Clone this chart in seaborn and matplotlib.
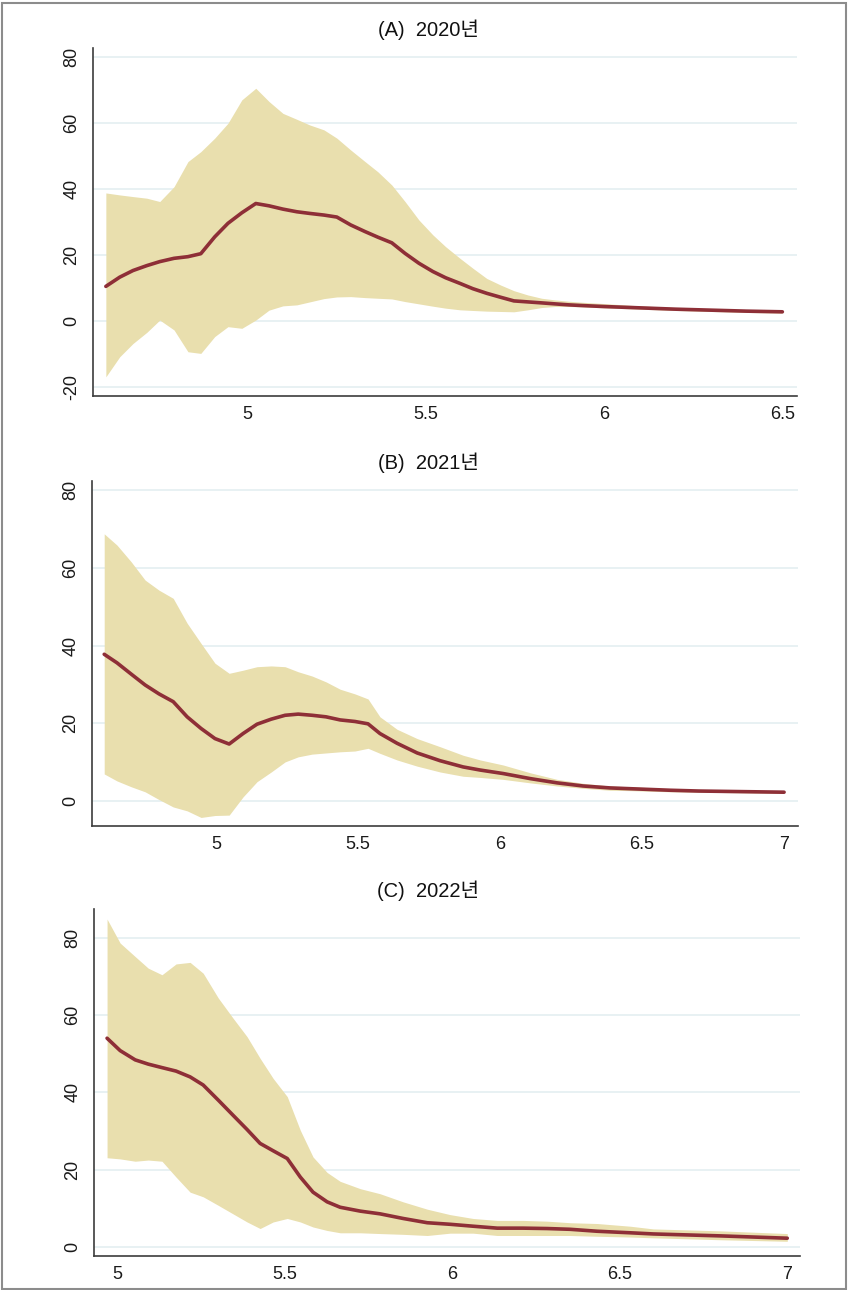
import matplotlib
matplotlib.use("Agg")
import matplotlib.pyplot as plt
import numpy as np
import pandas as pd
import seaborn as sns
from matplotlib.patches import Rectangle

# ---- (A) 2020 ----
x_2020 = [4.605, 4.644, 4.681, 4.720, 4.756, 4.796, 4.835, 4.871, 4.910, 4.947,
          4.986, 5.025, 5.062, 5.101, 5.140, 5.176, 5.216, 5.252, 5.291, 5.331,
          5.367, 5.406, 5.443, 5.482, 5.521, 5.557, 5.597, 5.633, 5.672, 5.711,
          5.748, 5.787, 5.826, 5.863, 5.902, 5.938, 6.0, 6.1, 6.2, 6.3, 6.4, 6.5]
mean_2020 = [10.5, 13.3, 15.3, 16.8, 18.0, 19.0, 19.5, 20.4, 25.5, 29.6,
             32.8, 35.6, 34.9, 33.9, 33.1, 32.6, 32.1, 31.5, 29.1, 27.1,
             25.4, 23.7, 20.5, 17.5, 15.0, 13.1, 11.4, 9.8, 8.4, 7.2,
             6.1, 5.8, 5.5, 5.2, 4.9, 4.7, 4.4, 4.0, 3.6, 3.3, 3.0, 2.8]
upper_2020 = [38.8, 38.2, 37.7, 37.2, 36.2, 40.7, 48.3, 51.3, 55.4, 59.9,
              67.0, 70.5, 66.5, 62.9, 61.1, 59.4, 57.9, 55.4, 51.8, 48.3,
              45.2, 41.2, 36.2, 30.6, 26.1, 22.5, 19.0, 16.0, 12.9, 10.9,
              9.2, 7.9, 6.9, 6.4, 6.0, 5.7, 5.3, 4.6, 4.1, 3.7, 3.4, 3.1]
lower_2020 = [-16.9, -10.8, -6.8, -3.4, 0.3, -2.7, -9.3, -9.8, -4.7, -1.7,
              -2.2, 0.3, 3.3, 4.6, 4.9, 5.8, 6.8, 7.3, 7.4, 7.1,
              6.9, 6.7, 5.9, 5.2, 4.5, 3.9, 3.4, 3.2, 3.0, 2.9,
              2.8, 3.4, 4.1, 4.4, 4.4, 4.3, 4.0, 3.6, 3.2, 2.9, 2.6, 2.4]

# ---- (B) 2021 ----
x_2021 = [4.606, 4.651, 4.701, 4.750, 4.799, 4.849, 4.898, 4.947, 4.996, 5.046,
          5.095, 5.144, 5.194, 5.243, 5.289, 5.338, 5.387, 5.437, 5.489, 5.535,
          5.577, 5.637, 5.708, 5.789, 5.870, 5.930, 6.011, 6.106, 6.201, 6.292,
          6.387, 6.458, 6.6, 6.7, 6.8, 6.9, 7.0]
mean_2021 = [37.8, 35.6, 32.7, 29.9, 27.6, 25.6, 21.7, 18.7, 16.1, 14.7,
             17.4, 19.8, 21.1, 22.1, 22.4, 22.1, 21.7, 20.9, 20.5, 19.9,
             17.4, 14.9, 12.4, 10.4, 8.8, 8.0, 7.1, 5.8, 4.7, 3.9,
             3.4, 3.2, 2.8, 2.6, 2.5, 2.4, 2.3]
upper_2021 = [68.8, 65.9, 61.6, 56.9, 54.3, 52.2, 45.8, 40.6, 35.5, 32.9,
              33.7, 34.6, 34.8, 34.6, 33.3, 32.2, 30.7, 28.8, 27.6, 26.3,
              21.7, 18.5, 16.1, 14.0, 11.8, 10.6, 9.3, 7.3, 5.6, 4.6,
              3.9, 3.7, 3.2, 2.9, 2.8, 2.7, 2.6]
lower_2021 = [7.0, 5.2, 3.7, 2.4, 0.4, -1.5, -2.5, -4.2, -3.7, -3.6,
              1.1, 5.0, 7.5, 10.1, 11.4, 12.1, 12.4, 12.7, 12.9, 13.6,
              12.3, 10.6, 9.0, 7.5, 6.4, 6.1, 5.6, 4.7, 3.9, 3.3,
              2.8, 2.7, 2.4, 2.3, 2.2, 2.1, 2.0]

# ---- (C) 2022 ----
x_2022 = [4.969, 5.008, 5.053, 5.092, 5.133, 5.175, 5.217, 5.256, 5.301, 5.345,
          5.387, 5.426, 5.465, 5.507, 5.546, 5.584, 5.626, 5.665, 5.725, 5.784,
          5.853, 5.925, 5.993, 6.062, 6.134, 6.211, 6.283, 6.352, 6.432, 6.531,
          6.6, 6.8, 7.0]
mean_2022 = [54.0, 50.8, 48.4, 47.3, 46.4, 45.5, 44.0, 41.9, 38.0, 34.1,
             30.4, 26.8, 24.9, 22.9, 18.1, 14.2, 11.7, 10.3, 9.3, 8.6,
             7.4, 6.3, 5.9, 5.4, 4.9, 4.9, 4.8, 4.6, 4.1, 3.7,
             3.4, 2.9, 2.3]
upper_2022 = [84.8, 78.6, 75.1, 72.1, 70.4, 73.2, 73.6, 70.8, 64.4, 59.2,
              54.4, 48.8, 43.6, 38.9, 30.2, 23.3, 19.3, 17.0, 15.1, 13.8,
              11.7, 9.8, 8.4, 7.4, 6.9, 6.9, 6.7, 6.3, 6.1, 5.4,
              4.7, 4.2, 3.5]
lower_2022 = [23.1, 22.8, 22.2, 22.5, 22.2, 18.1, 14.2, 13.0, 10.8, 8.6,
              6.5, 4.8, 6.5, 7.4, 6.5, 5.2, 4.3, 3.7, 3.7, 3.5,
              3.3, 3.0, 3.6, 3.6, 3.0, 3.0, 3.0, 3.0, 2.8, 2.6,
              2.4, 1.9, 1.5]

titles = ["(A)  2020년", "(B)  2021년", "(C)  2022년"]
xticks_2020 = [5, 5.5, 6, 6.5]
xticks_later = [5, 5.5, 6, 6.5, 7]
xtick_labels_2020 = ["5", "5.5", "6", "6.5"]
xtick_labels_later = ["5", "5.5", "6", "6.5", "7"]
yticks_2020 = [-20, 0, 20, 40, 60, 80]
yticks_later = [0, 20, 40, 60, 80]

panels = [
    dict(x=x_2020, m=mean_2020, hi=upper_2020, lo=lower_2020, title=titles[0],
         xt=xticks_2020, xl=xtick_labels_2020, yt=yticks_2020,
         xlim=(4.569, 6.541), ylim=(-22.7, 82.7),
         rect=(93, 48, 797, 396), title_y=30),
    dict(x=x_2021, m=mean_2021, hi=upper_2021, lo=lower_2021, title=titles[1],
         xt=xticks_later, xl=xtick_labels_later, yt=yticks_later,
         xlim=(4.563, 7.049), ylim=(-6.4, 82.4),
         rect=(92, 481, 798, 826), title_y=463),
    dict(x=x_2022, m=mean_2022, hi=upper_2022, lo=lower_2022, title=titles[2],
         xt=xticks_later, xl=xtick_labels_later, yt=yticks_later,
         xlim=(4.930, 7.038), ylim=(-2.3, 87.4),
         rect=(94, 909, 800, 1256), title_y=891),
]

sns.set_theme(style="white")
plt.rcParams["font.family"] = ["Liberation Sans", "Noto Sans CJK KR"]

W, H = 848, 1290
fig = plt.figure(figsize=(W / 100, H / 100), dpi=100)
fig.patch.set_facecolor("white")

band_color = "#E9DFAE"
line_color = "#8E2F37"
grid_color = "#E8F1F3"
axis_color = "#3C3C3C"

for p in panels:
    l, t, r, b = p["rect"]
    ax = fig.add_axes([l / W, 1 - b / H, (r - l) / W, (b - t) / H])
    df = pd.DataFrame({"x": p["x"], "mean": p["m"], "upper": p["hi"], "lower": p["lo"]})
    for yv in p["yt"]:
        ax.axhline(yv, color=grid_color, lw=1.4, zorder=0)
    ax.fill_between(df["x"], df["lower"], df["upper"], color=band_color, lw=0, zorder=1)
    sns.lineplot(data=df, x="x", y="mean", ax=ax, color=line_color, lw=2.6,
                 zorder=3, estimator=None, sort=False)
    ax.set_xlim(*p["xlim"])
    ax.set_ylim(*p["ylim"])
    ax.set_xticks(p["xt"])
    ax.set_xticklabels(p["xl"])
    ax.set_yticks(p["yt"])
    ax.set_yticklabels([str(v) for v in p["yt"]], rotation=90, va="center")
    ax.set_xlabel("")
    ax.set_ylabel("")
    for side in ("top", "right"):
        ax.spines[side].set_visible(False)
    for side in ("left", "bottom"):
        ax.spines[side].set_color(axis_color)
        ax.spines[side].set_linewidth(1.2)
    ax.tick_params(axis="both", direction="out", length=5, width=1,
                   color=axis_color, labelsize=13, labelcolor="#1A1A1A")
    ax.tick_params(axis="x", pad=2)
    ax.tick_params(axis="y", pad=4)
    ax.set_facecolor("white")
    ax.grid(False)
    fig.text(0.505, 1 - p["title_y"] / H, p["title"], ha="center", va="center",
             fontsize=14.5, color="#111111",
             family=["Liberation Sans", "Noto Sans CJK KR"])

fig.add_artist(Rectangle((1.5 / W, 1.5 / H), 1 - 3.5 / W, 1 - 4.5 / H,
                         transform=fig.transFigure, fill=False,
                         edgecolor="#8C8C8C", lw=1.5))

fig.savefig("out.png", dpi=100, facecolor="white")
